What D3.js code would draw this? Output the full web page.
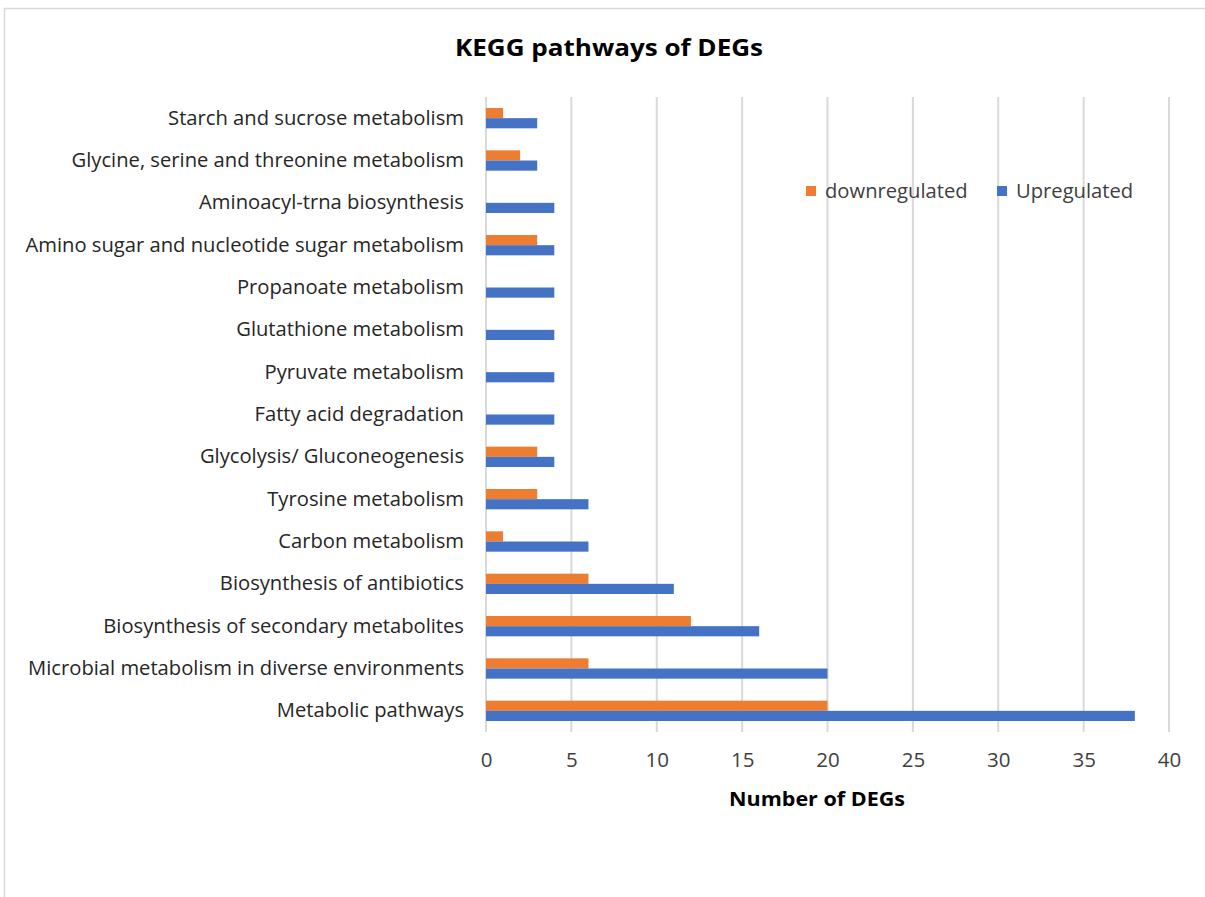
<!DOCTYPE html>
<html>
<head>
<meta charset="utf-8">
<script src="https://cdn.jsdelivr.net/npm/d3@7"></script>
<style>
  html, body { margin: 0; padding: 0; background: #fff; }
  svg { display: block; }
</style>
</head>
<body>
<svg id="chart" width="1205" height="897"></svg>
<script>
// KEGG pathway categories (first = bottom row)
const categories = [
  "Metabolic pathways",
  "Microbial metabolism in diverse environments",
  "Biosynthesis of secondary metabolites",
  "Biosynthesis of antibiotics",
  "Carbon metabolism",
  "Tyrosine metabolism",
  "Glycolysis/ Gluconeogenesis",
  "Fatty acid degradation",
  "Pyruvate metabolism",
  "Glutathione metabolism",
  "Propanoate metabolism",
  "Amino sugar and nucleotide sugar metabolism",
  "Aminoacyl-trna biosynthesis",
  "Glycine, serine and threonine metabolism",
  "Starch and sucrose metabolism"
];
const downregulated = [20, 6, 12, 6, 1, 3, 3, 0, 0, 0, 0, 3, 0, 2, 1];
const upregulated   = [38, 20, 16, 11, 6, 6, 4, 4, 4, 4, 4, 4, 4, 3, 3];
const xTicks = [0, 5, 10, 15, 20, 25, 30, 35, 40];
const seriesNames = ["downregulated", "Upregulated"];
const seriesColors = ["#ED7D31", "#4472C4"];

const svg = d3.select("#chart");
const font = "'Open Sans', 'Noto Sans', sans-serif";

// outer chart frame
svg.append("rect")
  .attr("x", 4.5).attr("y", 8.5)
  .attr("width", 1300).attr("height", 1000)
  .attr("fill", "#fff").attr("stroke", "#d9d9d9").attr("stroke-width", 1.5);

const plot = { left: 486, right: 1169, top: 97, bottom: 732 };

const x = d3.scaleLinear().domain([0, 40]).range([plot.left, plot.right]);
const y = d3.scaleBand()
  .domain(categories.slice().reverse())
  .range([plot.top, plot.bottom])
  .paddingInner(0.52).paddingOuter(0.26);
const sub = d3.scaleBand().domain(seriesNames).range([0, y.bandwidth()]);

// vertical gridlines
svg.append("g").selectAll("line").data(xTicks).join("line")
  .attr("x1", d => x(d)).attr("x2", d => x(d))
  .attr("y1", plot.top).attr("y2", plot.bottom)
  .attr("stroke", "#d9d9d9").attr("stroke-width", 2);

// bars
const rows = categories.map((c, i) => ({ c, vals: [downregulated[i], upregulated[i]] }));
const g = svg.append("g");
rows.forEach(r => {
  r.vals.forEach((v, k) => {
    if (v <= 0) return;
    g.append("rect")
      .attr("x", x(0))
      .attr("y", y(r.c) + sub(seriesNames[k]))
      .attr("width", x(v) - x(0))
      .attr("height", sub.bandwidth())
      .attr("fill", seriesColors[k]);
  });
});

// category labels
const yAxis = d3.axisLeft(y).tickSize(0).tickPadding(22);
const yg = svg.append("g").attr("transform", `translate(${plot.left},0)`).call(yAxis);
yg.select(".domain").remove();
yg.selectAll("text")
  .attr("font-family", font).attr("font-size", 20.2).attr("fill", "#262626");

// x axis tick labels
const xAxis = d3.axisBottom(x).tickValues(xTicks).tickSize(0).tickPadding(20);
const xg = svg.append("g").attr("transform", `translate(0,${plot.bottom})`).call(xAxis);
xg.select(".domain").remove();
xg.selectAll("text")
  .attr("font-family", font).attr("font-size", 20.5).attr("fill", "#404040");

// title
svg.append("text")
  .attr("x", 609).attr("y", 56).attr("text-anchor", "middle")
  .attr("font-family", font).attr("font-weight", "bold").attr("font-size", 23)
  .attr("textLength", 308).attr("lengthAdjust", "spacingAndGlyphs")
  .attr("fill", "#000").text("KEGG pathways of DEGs");

// x axis title
svg.append("text")
  .attr("x", 817).attr("y", 806).attr("text-anchor", "middle")
  .attr("font-family", font).attr("font-weight", "bold").attr("font-size", 20)
  .attr("textLength", 176).attr("lengthAdjust", "spacingAndGlyphs")
  .attr("fill", "#000").text("Number of DEGs");

// legend
const legendX = [806, 997];
seriesNames.forEach((n, k) => {
  svg.append("rect")
    .attr("x", legendX[k]).attr("y", 186).attr("width", 10).attr("height", 10)
    .attr("fill", seriesColors[k]);
  svg.append("text")
    .attr("x", legendX[k] + 19).attr("y", 198)
    .attr("font-family", font).attr("font-size", 20.2).attr("fill", "#404040")
    .text(n);
});
</script>
</body>
</html>
